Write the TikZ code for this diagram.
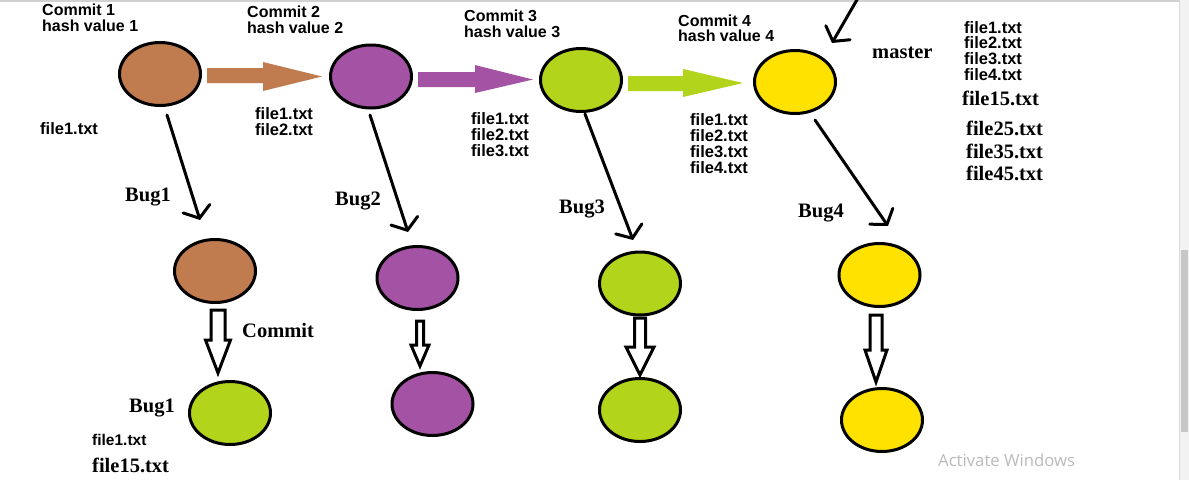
\documentclass[tikz,border=0pt]{standalone}
\usepackage{fontspec}
\setmainfont{Liberation Serif}
\newfontfamily\lsans{Liberation Sans}
\newfontfamily\wfont{Open Sans}
\usetikzlibrary{arrows.meta,shapes.geometric}
\definecolor{cbrown}{HTML}{C07B4F}
\definecolor{cpurple}{HTML}{A453A4}
\definecolor{cgreen}{HTML}{B2D41A}
\definecolor{cyellow}{HTML}{FFE200}
\newcommand\holarrow[6]{%
  \draw[hol] (#1-#2,#4) -- (#1+#2,#4) -- (#1+#2,#5) -- (#1+#3,#5) -- (#1,#6) -- (#1-#3,#5) -- (#1-#2,#5) -- cycle;}
\begin{document}
\begin{tikzpicture}[x=1pt,y=-1pt,
  bub/.style={draw=black, line width=3pt, ellipse, minimum width=81pt, minimum height=63pt, inner sep=0pt},
  lab/.style={anchor=west, inner sep=0pt, font=\lsans\bfseries\fontsize{16}{16}\selectfont},
  flab/.style={anchor=west, inner sep=0pt, font=\lsans\bfseries\fontsize{16.5}{16}\selectfont},
  slab/.style={anchor=west, inner sep=0pt, font=\bfseries\fontsize{20.5}{20}\selectfont},
  blk/.style={line width=3pt, line cap=round, -{Straight Barb[length=10pt,width=28pt,line cap=round]}},
  hol/.style={draw=black, line width=3pt, fill=white, line join=miter},
]
\useasboundingbox (0,0) rectangle (1189,480);
\fill[white] (0,0) rectangle (1189,480);
% screen frame
\draw[black!18, line width=2pt] (0,1) -- (1179,1);
\fill[black!5] (1179,0) rectangle (1189,480);
\draw[black!15, line width=0.8pt] (1179,0) -- (1179,480);
\fill[black!22] (1181,250) rectangle (1188,432);

% block arrows between commits
\fill[cbrown] (207,68) -- (263,68) -- (263,62) -- (322,76.5) -- (263,91) -- (263,83) -- (207,83) -- cycle;
\fill[cpurple] (418,72) -- (475,72) -- (475,65) -- (533,79.5) -- (475,93) -- (475,87) -- (418,87) -- cycle;
\fill[cgreen] (628,76) -- (683,76) -- (683,69) -- (743,83) -- (683,97) -- (683,91) -- (628,91) -- cycle;

% top row
\node[bub, fill=cbrown]  (C1) at (160,74) {};
\node[bub, fill=cpurple] (C2) at (371,76.5) {};
\node[bub, fill=cgreen]  (C3) at (581,80) {};
\node[bub, fill=cyellow] (C4) at (795,82) {};
% middle row
\node[bub, fill=cbrown]  (B1) at (215,271) {};
\node[bub, fill=cpurple] (B2) at (417.5,278) {};
\node[bub, fill=cgreen]  (B3) at (640,283.5) {};
\node[bub, fill=cyellow] (B4) at (879.5,275) {};
% bottom row
\node[bub, fill=cgreen]  (D1) at (230,413) {};
\node[bub, fill=cpurple] (D2) at (432.5,404) {};
\node[bub, fill=cgreen]  (D3) at (640,410) {};
\node[bub, fill=cyellow] (D4) at (882,420) {};

% black branch arrows
\coordinate (a1s) at (167,115);   \coordinate (a1e) at (200,220);
\coordinate (a2s) at (370,115);   \coordinate (a2e) at (408,232);
\coordinate (a3s) at (585,114);   \coordinate (a3e) at (633,240);
\coordinate (a4s) at (815,120);   \coordinate (a4e) at (888,226);
\coordinate (a5s) at (858,-2);    \coordinate (a5e) at (832,43);
\draw[blk] (a1s) -- (a1e);
\draw[blk] (a2s) -- (a2e);
\draw[blk] (a3s) -- (a3e);
\draw[blk] (a4s) -- (a4e);
\draw[blk] (a5s) -- (a5e);

% hollow commit arrows
\holarrow{218}{7}{12.5}{310}{340}{373}
\holarrow{420}{3.5}{9}{321}{345}{366}
\holarrow{640}{5.5}{14}{318}{347}{375}
\holarrow{876}{6}{11}{315}{350}{382}

% commit labels
\node[lab] (t1a) at (42,10) {Commit 1};
\node[lab] (t1b) at (42,26) {hash value 1};
\node[lab] (t2a) at (247,12) {Commit 2};
\node[lab] (t2b) at (247,27.5) {hash value 2};
\node[lab] (t3a) at (464,16) {Commit 3};
\node[lab] (t3b) at (464,32) {hash value 3};
\node[lab] (t4a) at (678,21) {Commit 4};
\node[lab] (t4b) at (678,36) {hash value 4};

% file lists
\node[flab] (f11) at (40,129) {file1.txt};
\node[flab] (f21) at (255,114) {file1.txt};
\node[flab] (f22) at (255,129.5) {file2.txt};
\node[flab] (f31) at (471,119) {file1.txt};
\node[flab] (f32) at (471,135) {file2.txt};
\node[flab] (f33) at (471,151) {file3.txt};
\node[flab] (f41) at (690,120) {file1.txt};
\node[flab] (f42) at (690,136) {file2.txt};
\node[flab] (f43) at (690,152) {file3.txt};
\node[flab] (f44) at (690,167.5) {file4.txt};
\node[flab] (r1) at (964,27.5) {file1.txt};
\node[flab] (r2) at (964,43) {file2.txt};
\node[flab] (r3) at (964,59) {file3.txt};
\node[flab] (r4) at (964,75) {file4.txt};
\node[slab] (r5) at (962,98) {file15.txt};
\node[slab] (r6) at (966,128) {file25.txt};
\node[slab] (r7) at (966,151) {file35.txt};
\node[slab] (r8) at (966,173) {file45.txt};
\node[slab] (mst) at (872,53) {master};

% bug labels
\node[slab] (bg1) at (125,197) {Bug1};
\node[slab] (bg2) at (335,201) {Bug2};
\node[slab] (bg3) at (559,209) {Bug3};
\node[slab] (bg4) at (798,213) {Bug4};
\node[slab] (cmt) at (242,330) {Commit};
\node[slab] (bg5) at (129,408) {Bug1};
\node[anchor=west, inner sep=0pt, font=\lsans\bfseries\fontsize{15.5}{16}\selectfont] (bf1) at (92,440) {file1.txt};
\node[slab] (bf2) at (92,465) {file15.txt};

% screen watermark
\node[anchor=west, inner sep=0pt, text=black!27, font=\wfont\fontsize{16.7}{18}\selectfont] (wm) at (938,460) {Activate Windows};
\end{tikzpicture}
\end{document}
